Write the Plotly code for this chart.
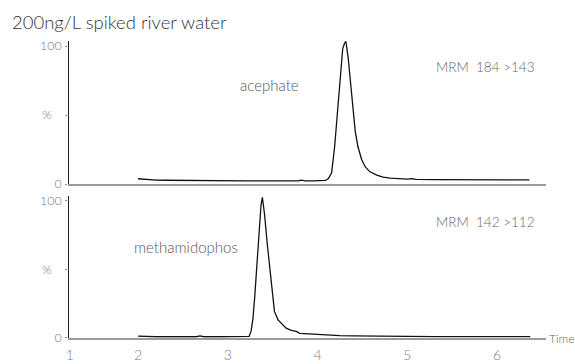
import plotly.graph_objects as go

# ---------------- data ----------------
acephate_t = [2.00, 2.10, 2.20, 2.30, 2.40, 2.50, 2.60, 2.70, 2.80, 2.90, 3.00, 3.10, 3.20,
              3.30, 3.40, 3.50, 3.60, 3.70, 3.78, 3.82, 3.86, 3.95, 4.05, 4.09, 4.12, 4.156,
              4.19, 4.22, 4.25, 4.28, 4.30, 4.315, 4.34, 4.37, 4.40, 4.42, 4.45, 4.49, 4.53,
              4.58, 4.66, 4.73, 4.81, 4.90, 5.00, 5.05, 5.10, 5.30, 5.50, 5.70, 5.90, 6.10,
              6.36]
acephate_y = [3.8, 3.2, 2.8, 2.7, 2.6, 2.4, 2.5, 2.3, 2.4, 2.3, 2.2, 2.3, 2.2,
              2.3, 2.2, 2.3, 2.2, 2.2, 2.3, 2.8, 2.3, 2.2, 2.3, 2.6, 4.0, 8.0,
              27, 52, 75, 98, 102, 103.5, 92, 72, 51, 38, 27, 18, 12.5,
              9.0, 6.5, 5.0, 4.2, 3.8, 3.6, 3.9, 3.3, 3.1, 3.0, 3.0, 3.0, 3.0,
              3.0]

metha_t = [2.00, 2.10, 2.20, 2.40, 2.60, 2.65, 2.69, 2.73, 2.90, 3.10, 3.20, 3.237, 3.26,
           3.28, 3.30, 3.32, 3.34, 3.357, 3.37, 3.385, 3.41, 3.44, 3.47, 3.50, 3.52, 3.56,
           3.60, 3.65, 3.70, 3.77, 3.80, 3.85, 3.91, 3.97, 4.02, 4.10, 4.25, 4.40, 4.55,
           4.70, 4.73, 4.76, 5.00, 5.30, 5.70, 5.75, 5.80, 6.10, 6.37]
metha_y = [1.2, 0.8, 0.7, 0.7, 0.7, 0.7, 1.3, 0.7, 0.7, 0.7, 0.7, 0.9, 5,
           14, 30, 50, 70, 87, 97, 102.5, 89.5, 68, 48, 30, 19, 13,
           10, 7, 5.5, 4.4, 3.2, 3.0, 2.5, 2.8, 2.4, 2.0, 1.5, 1.4, 1.2,
           1.0, 1.5, 1.0, 0.9, 0.8, 0.8, 1.1, 0.8, 0.8, 0.8]

x_tick_vals = [1.24, 2, 3, 4, 5, 6]
x_tick_text = ["1", "2", "3", "4", "5", "6"]
y_tick_vals = [0, 50, 100]
y_tick_text = ["0", "%\u00a0\u00a0\u00a0", "100"]

title_text = "200ng/L spiked river water"
compound_top = "acephate"
compound_bottom = "methamidophos"
mrm_top = "MRM  184 >143"
mrm_bottom = "MRM  142 >112"

# ---------------- layout helpers ----------------
W, H = 575, 364
FONT = "Lato"
GRAY = "#666666"
LIGHT = 300


def fx(px):
    return px / W


def fy(py):
    return 1 - py / H


YMAX = 103.5
top_scale = (184 - 46) / 100.0
top_dom = [fy(184), fy(184 - top_scale * YMAX)]
bot_scale = (337.7 - 200.7) / 100.0
bot_dom = [fy(337.7), fy(337.7 - bot_scale * YMAX)]
x_dom = [fx(68.5), fx(546)]
x_range = [1.225, 6.545]

fig = go.Figure()
fig.add_trace(go.Scatter(x=acephate_t, y=acephate_y, mode="lines",
                         line=dict(color="#111111", width=1.3),
                         xaxis="x", yaxis="y", showlegend=False))
fig.add_trace(go.Scatter(x=metha_t, y=metha_y, mode="lines",
                         line=dict(color="#111111", width=1.3),
                         xaxis="x2", yaxis="y2", showlegend=False))

yaxis_common = dict(range=[0, YMAX], tickvals=y_tick_vals, ticktext=y_tick_text,
                    showgrid=False, zeroline=False, showline=True,
                    linecolor="#222222", linewidth=1.3,
                    ticks="outside", ticklen=2, tickcolor="#888888",
                    tickfont=dict(family=FONT, size=12.5, color="#777777", weight=LIGHT),
                    ticklabelstandoff=1, fixedrange=True, automargin=False)
xaxis_common = dict(range=x_range, domain=x_dom, showgrid=False, zeroline=False,
                    showline=True, linecolor="#9a9a9a", linewidth=1.6,
                    ticks="", fixedrange=True, automargin=False)

fig.update_layout(
    width=W, height=H,
    margin=dict(l=0, r=0, t=0, b=0),
    paper_bgcolor="white", plot_bgcolor="white",
    xaxis=dict(**xaxis_common, anchor="y", showticklabels=False),
    yaxis=dict(**yaxis_common, domain=top_dom, anchor="x"),
    xaxis2=dict(**xaxis_common, anchor="y2", tickvals=x_tick_vals, ticktext=x_tick_text,
                tickfont=dict(family=FONT, size=14, color="#808080", weight=LIGHT),
                ticklabelstandoff=4),
    yaxis2=dict(**yaxis_common, domain=bot_dom, anchor="x2"),
)

ann = [
    dict(text=title_text, x=fx(10), y=fy(22), xanchor="left", yanchor="middle",
         font=dict(family=FONT, size=18.5, color="#333333", weight=LIGHT)),
    dict(text=compound_top, x=fx(238), y=fy(85), xanchor="left", yanchor="middle",
         font=dict(family=FONT, size=15, color="#555555", weight=LIGHT)),
    dict(text=mrm_top, x=fx(434), y=fy(67), xanchor="left", yanchor="middle",
         font=dict(family=FONT, size=13.5, color=GRAY, weight=LIGHT)),
    dict(text=compound_bottom, x=fx(132), y=fy(247), xanchor="left", yanchor="middle",
         font=dict(family=FONT, size=15, color="#555555", weight=LIGHT)),
    dict(text=mrm_bottom, x=fx(434), y=fy(222), xanchor="left", yanchor="middle",
         font=dict(family=FONT, size=13.5, color=GRAY, weight=LIGHT)),
    dict(text="Time", x=fx(547), y=fy(338), xanchor="left", yanchor="middle",
         font=dict(family=FONT, size=12, color=GRAY, weight=LIGHT)),
]
for a in ann:
    a.update(xref="paper", yref="paper", showarrow=False)
fig.update_layout(annotations=ann)

fig.write_html("out.html")
